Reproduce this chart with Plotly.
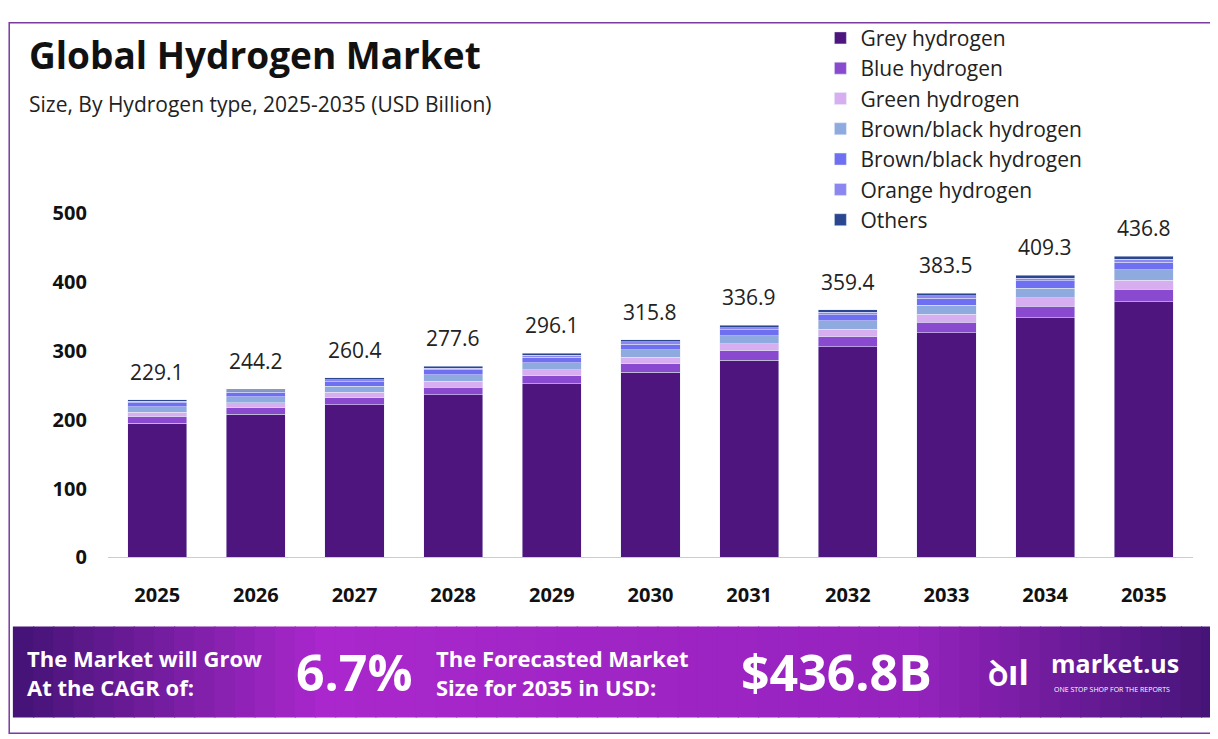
import plotly.graph_objects as go

years = ["2025","2026","2027","2028","2029","2030","2031","2032","2033","2034","2035"]
totals = [229.1,244.2,260.4,277.6,296.1,315.8,336.9,359.4,383.5,409.3,436.8]
grey = [194.7,207.6,221.3,236.0,251.7,268.4,286.4,305.5,326.0,347.9,371.3]
blue = [9.2,9.8,10.4,11.1,11.8,12.6,13.5,14.4,15.3,16.4,17.5]
green = [6.9,7.3,7.8,8.3,8.9,9.5,10.1,10.8,11.5,12.3,13.1]
brown = [8.0,8.5,9.1,9.7,10.4,11.1,11.8,12.6,13.4,14.3,15.3]
brown2 = [5.7,6.1,6.5,6.9,7.4,7.9,8.4,9.0,9.6,10.2,10.9]
orange = [2.3,2.4,2.6,2.8,3.0,3.2,3.4,3.6,3.8,4.1,4.4]
others = [2.3,2.5,2.7,2.8,2.9,3.1,3.3,3.5,3.9,4.1,4.3]

series = [("Grey hydrogen", grey, "#4e157f"),
          ("Blue hydrogen", blue, "#8a4ad0"),
          ("Green hydrogen", green, "#d7aef0"),
          ("Brown/black hydrogen", brown, "#8eaadf"),
          ("Brown/black hydrogen", brown2, "#6f6ff2"),
          ("Orange hydrogen", orange, "#8c86f0"),
          ("Others", others, "#2b4690")]

W = "Open Sans"
fig = go.Figure()
for name, vals, col in series:
    fig.add_bar(x=years, y=vals, name=name, marker_color=col, width=0.6)

shapes = [dict(type="rect", xref="paper", yref="paper", x0=0.001, x1=0.999, y0=0.001, y1=0.999,
               line=dict(color="#7a3aa0", width=1.5))]
def lerp(a, b, t):
    return tuple(int(a[i] + (b[i]-a[i])*t) for i in range(3))
dark = (70, 20, 120); bright = (170, 40, 205)
n = 60
for i in range(n):
    t = i/(n-1)
    if t < 0.25: c = lerp(dark, bright, t/0.25)
    elif t < 0.75: c = lerp(bright, (150, 35, 190), (t-0.25)/0.5)
    else: c = lerp((150, 35, 190), dark, (t-0.75)/0.25)
    shapes.append(dict(type="rect", xref="paper", yref="paper", x0=0.004+i*0.992/n, x1=0.004+(i+1)*0.992/n+0.001,
                       y0=0.023, y1=0.151, fillcolor="rgb(%d,%d,%d)" % c, line_width=0, layer="below"))

ann = [
    dict(x=0.016, y=0.955, text="<b>Global Hydrogen Market</b>", font=dict(size=37, family=W, color="#111"), xanchor="left", yanchor="middle"),
    dict(x=0.016, y=0.885, text="Size, By Hydrogen type, 2025-2035 (USD Billion)", font=dict(size=21, family=W, color="#222"), xanchor="left", yanchor="middle"),
    dict(x=0.014, y=0.087, text="<b>The Market will Grow<br>At the CAGR of:</b>", font=dict(size=22, family=W, color="white"), xanchor="left", yanchor="middle", align="left"),
    dict(x=0.235, y=0.087, text="<b>6.7%</b>", font=dict(size=50, family=W, color="white"), xanchor="left", yanchor="middle"),
    dict(x=0.350, y=0.087, text="<b>The Forecasted Market<br>Size for 2035 in USD:</b>", font=dict(size=22, family=W, color="white"), xanchor="left", yanchor="middle", align="left"),
    dict(x=0.600, y=0.087, text="<b>$436.8B</b>", font=dict(size=50, family=W, color="white"), xanchor="left", yanchor="middle"),
    dict(x=0.803, y=0.087, text="<b>ꝺıl</b>", font=dict(size=34, family=W, color="white"), xanchor="left", yanchor="middle"),
    dict(x=0.855, y=0.100, text="<b>market.us</b>", font=dict(size=25, family=W, color="white"), xanchor="left", yanchor="middle"),
    dict(x=0.857, y=0.063, text="ONE STOP SHOP FOR THE REPORTS", font=dict(size=7, family=W, color="white"), xanchor="left", yanchor="middle"),
]
for a in ann:
    a.update(xref="paper", yref="paper", showarrow=False)
for i, tv in enumerate(totals):
    ann.append(dict(x=i, y=tv, xref="x", yref="y", text=f"{tv:.1f}", showarrow=False,
                    yshift=28, font=dict(size=21, family=W, color="#222")))

fig.update_layout(
    width=1218, height=739, barmode="stack", bargap=0.4,
    margin=dict(l=0, r=0, t=0, b=0),
    paper_bgcolor="white", plot_bgcolor="white",
    xaxis=dict(type="category", domain=[0.082, 0.973], tickfont=dict(size=20, family=W, color="#111", weight="bold"),
               showline=True, linecolor="#ccc", ticks="", showgrid=False, ticklabelstandoff=20),
    yaxis=dict(domain=[0.248, 0.732], range=[0, 500], tickvals=[0,100,200,300,400,500],
               tickfont=dict(size=20, family=W, color="#111", weight="bold"), showgrid=False,
               zeroline=False, ticklabelstandoff=20),
    legend=dict(x=0.667, y=1.006, xanchor="left", yanchor="top", traceorder="normal",
                font=dict(size=21, family=W, color="#222"), itemwidth=30, tracegroupgap=0,
                bgcolor="rgba(0,0,0,0)"),
    shapes=shapes, annotations=ann,
)
fig.write_html("out.html")
